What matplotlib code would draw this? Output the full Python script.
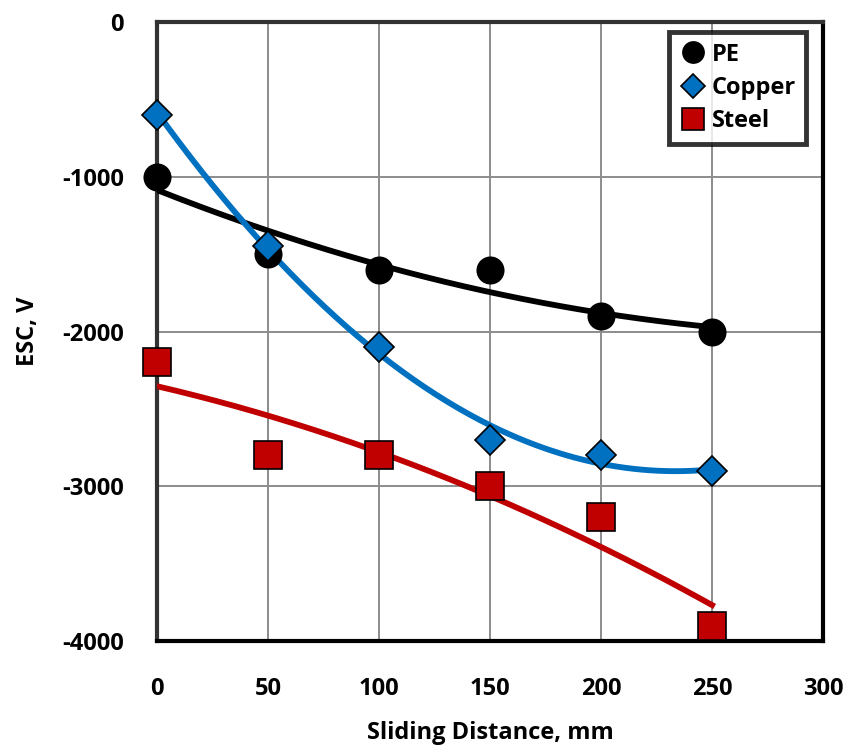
import numpy as np
import matplotlib.pyplot as plt

plt.rcParams['font.family'] = ['Open Sans', 'DejaVu Sans']
plt.rcParams['font.weight'] = 'bold'
plt.rcParams['axes.unicode_minus'] = False

distance = [0, 50, 100, 150, 200, 250]
pe = [-1000, -1500, -1600, -1600, -1900, -2000]
copper = [-600, -1450, -2100, -2700, -2800, -2900]
steel = [-2200, -2800, -2800, -3000, -3200, -3900]

series = [
    ("PE", pe, "o", "black", 19),
    ("Copper", copper, "D", "#0070C0", 15),
    ("Steel", steel, "s", "#C00000", 20),
]

fig = plt.figure(figsize=(8.52, 7.49), dpi=100)
ax = fig.add_axes([0.1843, 0.1442, 0.7817, 0.8264])

xs = np.linspace(0, 250, 200)
for name, vals, mk, col, ms in series:
    # 2nd order trendline like excel
    coef = np.polyfit(distance, vals, 2)
    ax.plot(xs, np.polyval(coef, xs), color=col, lw=4.2, zorder=3)
for name, vals, mk, col, ms in series:
    ax.plot(distance, vals, linestyle="none", marker=mk, markersize=ms,
            markerfacecolor=col, markeredgecolor="black", markeredgewidth=1.2,
            label=name, zorder=4, clip_on=False)

ax.set_xlim(0, 300)
ax.set_ylim(-4000, 0)
ax.set_xticks(range(0, 301, 50))
ax.set_yticks(range(-4000, 1, 1000))
ax.grid(True, color="#8c8c8c", lw=1.4)
ax.set_axisbelow(True)
ax.tick_params(axis="y", length=0, labelsize=17, pad=24)
ax.tick_params(axis="x", length=0, labelsize=17, pad=26)
for lab in ax.get_xticklabels() + ax.get_yticklabels():
    lab.set_fontweight("bold")

for s in ["right", "bottom"]:
    ax.spines[s].set_color("black")
    ax.spines[s].set_linewidth(3)
for s in ["top", "left"]:
    ax.spines[s].set_color("#333333")
    ax.spines[s].set_linewidth(3)

ax.set_xlabel("Sliding Distance, mm", fontsize=17, fontweight="bold", labelpad=14)
ax.set_ylabel("ESC, V", fontsize=17, fontweight="bold", labelpad=16)

leg = ax.legend(loc="upper right", bbox_to_anchor=(0.975, 0.984), fontsize=17,
                frameon=True, fancybox=False, handletextpad=0.25,
                borderpad=0.45, labelspacing=0.4, handlelength=1.1,
                borderaxespad=0, markerscale=0.8)
leg.get_frame().set_edgecolor("black")
leg.get_frame().set_linewidth(3.5)
for t in leg.get_texts():
    t.set_fontweight("bold")

fig.savefig("out.png", dpi=100)
